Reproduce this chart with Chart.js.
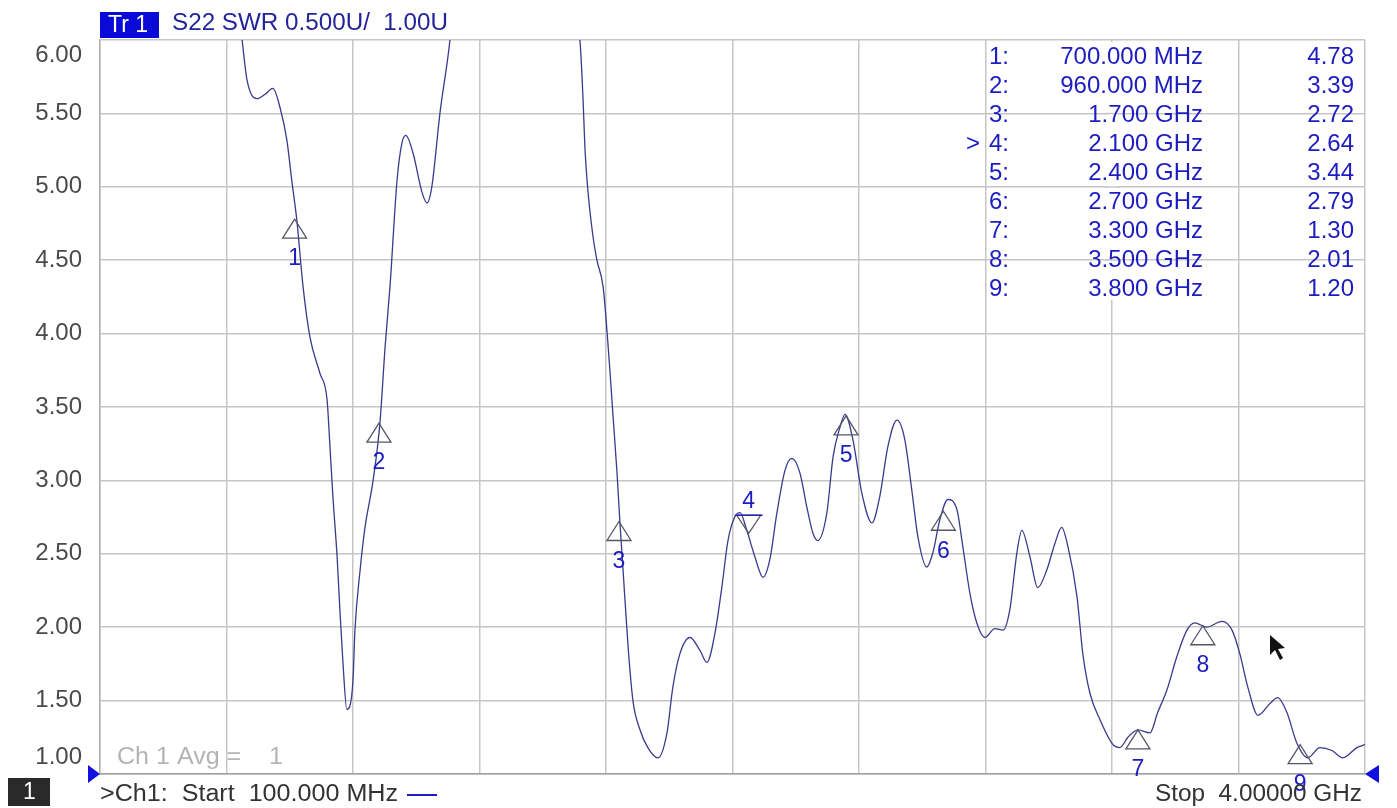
<!DOCTYPE html>
<html>
<head>
<meta charset="utf-8">
<script src="https://cdn.jsdelivr.net/npm/chart.js@4"></script>
<style>
html,body{margin:0;padding:0;background:#fff;}
#wrap{width:1397px;height:808px;position:relative;}
</style>
</head>
<body>
<div id="wrap"><canvas id="c" width="1397" height="808"></canvas></div>
<script>
// ---- data ----
const freqGHz = [0.10,0.30,0.45,0.52,0.538,0.553,0.584,0.609,0.633,0.655,0.676,0.692,0.707,0.726,0.747,0.778,0.800,0.809,0.818,0.831,0.840,0.849,0.861,0.870,0.880,0.886,0.901,0.917,0.942,0.963,0.979,0.994,1.016,1.031,1.043,1.065,1.093,1.108,1.123,1.148,1.179,1.22,1.38,1.50,1.56,1.580,1.589,1.595,1.604,1.620,1.632,1.651,1.663,1.672,1.681,1.694,1.703,1.712,1.728,1.743,1.765,1.789,1.820,1.848,1.866,1.888,1.919,1.950,1.971,1.996,2.017,2.036,2.057,2.073,2.094,2.119,2.144,2.165,2.187,2.212,2.233,2.258,2.279,2.298,2.313,2.341,2.360,2.381,2.397,2.421,2.449,2.480,2.504,2.529,2.557,2.581,2.603,2.622,2.649,2.668,2.689,2.714,2.742,2.760,2.782,2.803,2.828,2.859,2.884,2.905,2.927,2.942,2.967,2.991,3.019,3.044,3.065,3.084,3.112,3.130,3.152,3.183,3.223,3.244,3.269,3.300,3.337,3.361,3.389,3.420,3.451,3.475,3.512,3.559,3.590,3.614,3.639,3.670,3.707,3.731,3.759,3.790,3.824,3.861,3.898,3.932,3.975,4.000];
const swr = [9.5,8.0,7.0,6.3,6.0,5.73,5.60,5.63,5.67,5.54,5.32,5.03,4.77,4.32,3.98,3.73,3.55,3.23,2.89,2.48,2.10,1.76,1.44,1.46,1.64,1.98,2.37,2.68,3.00,3.39,3.91,4.32,5.05,5.30,5.35,5.23,4.96,4.89,5.00,5.50,6.00,7.0,8.5,7.2,6.3,5.99,5.61,5.27,4.98,4.66,4.50,4.32,4.02,3.75,3.46,3.05,2.71,2.41,1.87,1.50,1.30,1.18,1.11,1.28,1.59,1.82,1.93,1.84,1.76,1.96,2.27,2.59,2.75,2.78,2.66,2.48,2.34,2.46,2.78,3.07,3.15,3.05,2.82,2.64,2.59,2.78,3.16,3.36,3.45,3.28,2.91,2.71,2.89,3.23,3.41,3.28,2.93,2.61,2.41,2.51,2.73,2.87,2.80,2.55,2.23,2.03,1.93,1.99,1.98,2.12,2.51,2.66,2.48,2.27,2.39,2.57,2.68,2.55,2.21,1.82,1.55,1.37,1.20,1.18,1.25,1.30,1.28,1.42,1.57,1.80,1.98,2.03,2.00,2.04,1.98,1.82,1.59,1.40,1.48,1.52,1.42,1.21,1.11,1.18,1.16,1.11,1.18,1.20];

const xTicks = [0.10,0.49,0.88,1.27,1.66,2.05,2.44,2.83,3.22,3.61,4.00];
const yTicks = [1.0,1.5,2.0,2.5,3.0,3.5,4.0,4.5,5.0,5.5,6.0];
const yTickLabels = ['1.00','1.50','2.00','2.50','3.00','3.50','4.00','4.50','5.00','5.50','6.00'];

const markerNum = ['1','2','3','4','5','6','7','8','9'];
const markerFreq = [0.70,0.96,1.70,2.10,2.40,2.70,3.30,3.50,3.80];
const markerSwr = [4.78,3.39,2.72,2.64,3.44,2.79,1.30,2.01,1.20];
const markerFreqText = ['700.000 MHz','960.000 MHz','1.700 GHz','2.100 GHz','2.400 GHz','2.700 GHz','3.300 GHz','3.500 GHz','3.800 GHz'];
const markerSwrText = ['4.78','3.39','2.72','2.64','3.44','2.79','1.30','2.01','1.20'];
const activeMarker = 3;

const traceTitle = 'S22 SWR 0.500U/  1.00U';
const startText = '>Ch1:  Start  100.000 MHz';
const stopText = 'Stop  4.00000 GHz';
const avgText = 'Ch 1 Avg =    1';

const FONT = '"Liberation Sans", Arial, sans-serif';
const BLUE = '#1c1cc0';

function fitText(ctx, text, x, y, width, align) {
  const w = ctx.measureText(text).width;
  ctx.save();
  ctx.textAlign = 'left';
  ctx.translate(align === 'right' ? x - width : x, y);
  ctx.scale(width / w, 1);
  ctx.fillText(text, 0, 0);
  ctx.restore();
}

const overlay = {
  id: 'overlay',
  afterDraw(chart) {
    const ctx = chart.ctx;
    const xs = chart.scales.x, ys = chart.scales.y;
    const ca = chart.chartArea;
    ctx.save();
    ctx.textBaseline = 'middle';

    // y tick labels
    ctx.font = '24px ' + FONT;
    ctx.fillStyle = '#4a4a4a';
    ctx.textAlign = 'right';
    yTicks.forEach((v, i) => {
      let y = ys.getPixelForValue(v);
      if (i === yTicks.length - 1) y += 15;
      if (i === 0) y -= 17;
      ctx.fillText(yTickLabels[i], 82, y);
    });

    // header
    ctx.fillStyle = '#0a0ad8';
    ctx.fillRect(100, 12, 59, 26);
    ctx.fillStyle = '#ffffff';
    ctx.textAlign = 'left';
    ctx.font = '23px ' + FONT;
    ctx.fillText('Tr 1', 108, 26);
    ctx.fillStyle = '#24249a';
    fitText(ctx, traceTitle, 172, 24, 276, 'left');

    // marker table: hide vertical gridline behind it like the analyzer box
    ctx.fillStyle = '#ffffff';
    ctx.fillRect(1108, 42, 10, 258);
    ctx.strokeStyle = '#c6c6c6'; ctx.lineWidth = 1.5;
    [113.5, 187, 260].forEach(yy => { ctx.beginPath(); ctx.moveTo(1105, yy); ctx.lineTo(1120, yy); ctx.stroke(); });

    ctx.font = '24px ' + FONT;
    ctx.fillStyle = BLUE;
    markerNum.forEach((n, i) => {
      const y = 57 + i * 29;
      ctx.textAlign = 'left';
      ctx.fillText(n + ':', 989, y);
      ctx.textAlign = 'right';
      ctx.fillText(markerFreqText[i], 1203, y);
      ctx.fillText(markerSwrText[i], 1354, y);
      if (i === activeMarker) ctx.fillText('>', 980, y);
    });

    // markers
    ctx.lineWidth = 1.3;
    markerNum.forEach((n, i) => {
      const px = xs.getPixelForValue(markerFreq[i]);
      const py = ys.getPixelForValue(markerSwr[i]);
      ctx.font = '23px ' + FONT;
      ctx.textAlign = 'center';
      ctx.fillStyle = BLUE;
      if (i === activeMarker) {
        ctx.strokeStyle = '#555566';
        ctx.beginPath();
        ctx.moveTo(px - 12, py - 18); ctx.lineTo(px + 12, py - 18); ctx.lineTo(px, py); ctx.closePath();
        ctx.stroke();
        ctx.strokeStyle = BLUE;
        ctx.beginPath(); ctx.moveTo(px - 14, py - 18); ctx.lineTo(px + 14, py - 18); ctx.stroke();
        ctx.fillText(n, px, py - 32);
      } else {
        ctx.strokeStyle = '#555566';
        ctx.beginPath();
        ctx.moveTo(px, py); ctx.lineTo(px - 12, py + 19); ctx.lineTo(px + 12, py + 19); ctx.closePath();
        ctx.stroke();
        ctx.fillText(n, px, py + 40);
      }
    });

    // bottom info
    ctx.font = '23px ' + FONT;
    ctx.fillStyle = '#b4b4b4';
    fitText(ctx, avgText, 117, 758, 166, 'left');
    ctx.fillStyle = '#2a2a2a';
    ctx.fillRect(8, 778, 42, 28);
    ctx.fillStyle = '#ffffff';
    ctx.textAlign = 'left';
    ctx.fillText('1', 23, 793);
    ctx.fillStyle = '#333333';
    fitText(ctx, startText, 100, 795, 298, 'left');
    ctx.strokeStyle = BLUE; ctx.lineWidth = 2;
    ctx.beginPath(); ctx.moveTo(407, 795); ctx.lineTo(437, 795); ctx.stroke();
    ctx.fillStyle = '#333333';
    fitText(ctx, stopText, 1362, 795, 207, 'right');

    // start/stop triangles
    ctx.fillStyle = '#1010e0';
    const by = ca.bottom;
    ctx.beginPath(); ctx.moveTo(ca.left, by); ctx.lineTo(ca.left - 12, by - 9); ctx.lineTo(ca.left - 12, by + 9); ctx.closePath(); ctx.fill();
    ctx.beginPath(); ctx.moveTo(ca.right, by); ctx.lineTo(ca.right + 14, by - 9); ctx.lineTo(ca.right + 14, by + 9); ctx.closePath(); ctx.fill();

    // mouse pointer
    ctx.fillStyle = '#111';
    ctx.beginPath();
    ctx.moveTo(1270, 635); ctx.lineTo(1270, 655); ctx.lineTo(1275, 650); ctx.lineTo(1280, 660);
    ctx.lineTo(1283, 658); ctx.lineTo(1278, 649); ctx.lineTo(1285, 648); ctx.closePath(); ctx.fill();
    ctx.restore();
  }
};

new Chart(document.getElementById('c'), {
  type: 'line',
  data: {
    datasets: [{
      data: freqGHz.map((f, i) => ({ x: f, y: swr[i] })),
      borderColor: '#3a3a8e',
      borderWidth: 1.3,
      pointRadius: 0,
      cubicInterpolationMode: 'monotone',
      clip: 0,
      fill: false
    }]
  },
  options: {
    responsive: false,
    devicePixelRatio: 1,
    animation: false,
    layout: { padding: { left: 100, right: 32, top: 40, bottom: 34 } },
    plugins: { legend: { display: false }, tooltip: { enabled: false } },
    scales: {
      x: {
        type: 'linear', min: 0.1, max: 4.0,
        afterBuildTicks: s => { s.ticks = xTicks.map(v => ({ value: v })); },
        afterFit: s => { s.height = 0; },
        ticks: { display: false },
        grid: { color: '#c6c6c6', lineWidth: 1.5, drawTicks: false },
        border: { color: '#a0a0a0', width: 1.5 }
      },
      y: {
        type: 'linear', min: 1, max: 6,
        afterBuildTicks: s => { s.ticks = yTicks.map(v => ({ value: v })); },
        afterFit: s => { s.width = 0; },
        ticks: { display: false },
        grid: { color: '#c6c6c6', lineWidth: 1.5, drawTicks: false },
        border: { color: '#b0b0b0', width: 1.5 }
      }
    }
  },
  plugins: [overlay]
});
</script>
</body>
</html>
